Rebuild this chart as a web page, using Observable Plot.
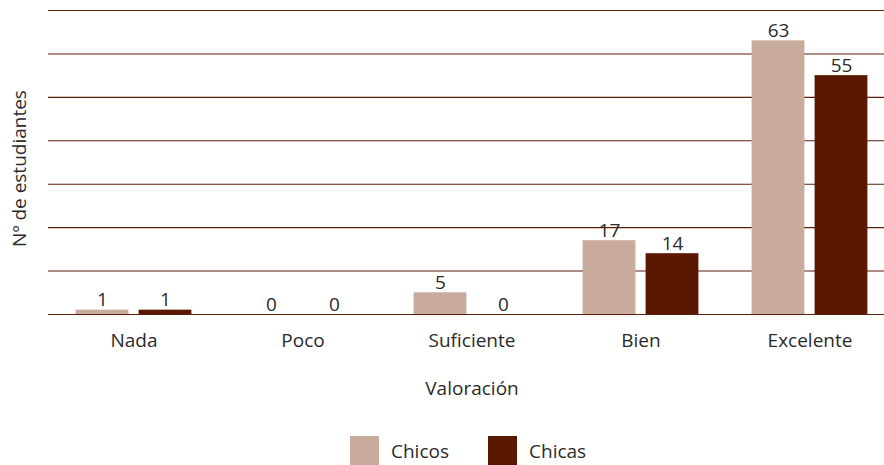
<!DOCTYPE html>
<html lang="es">
<head>
<meta charset="utf-8">
<script src="https://cdn.jsdelivr.net/npm/d3@7"></script>
<script src="https://cdn.jsdelivr.net/npm/@observablehq/plot@0.6"></script>
<style>
  html, body { margin: 0; padding: 0; background: #fff; }
  body { position: relative; width: 884px; height: 465px; overflow: hidden; font-family: "Open Sans", sans-serif; color: #2b2b2b; }
  #chart svg { display: block; }
  .legend { position: absolute; left: 350px; top: 436px; display: flex; align-items: center; font-size: 19px; }
  .legend .item { display: flex; align-items: center; }
  .legend .swatch { width: 29px; height: 29px; margin-right: 12px; }
  .legend .item + .item { margin-left: 39px; }
</style>
</head>
<body>
<div id="chart"></div>
<script>
// Valoración por categoría, chicos y chicas
const categories = ["Nada", "Poco", "Suficiente", "Bien", "Excelente"];
const series = ["Chicos", "Chicas"];
const chicos = [1, 0, 5, 17, 63];
const chicas = [1, 0, 0, 14, 55];
const colors = ["#c9ab9e", "#5a1800"];
const gridTicks = [0, 10, 20, 30, 40, 50, 60, 70];
const yTitle = "Nº de estudiantes";
const xTitle = "Valoración";

const rows = categories.flatMap((cat, i) => [
  {cat, serie: series[0], n: chicos[i]},
  {cat, serie: series[1], n: chicas[i]}
]);
const rowsChicos = rows.filter(d => d.serie === series[0]);
const rowsChicas = rows.filter(d => d.serie === series[1]);

const labelStyle = {fontSize: 19, fill: "#2b2b2b", lineAnchor: "bottom", dy: -4};

const chart = Plot.plot({
  width: 884,
  height: 430,
  marginTop: 10,
  marginBottom: 116,
  marginLeft: 48,
  marginRight: -11,
  style: {fontFamily: "Open Sans, sans-serif", fontSize: "19px", color: "#2b2b2b", background: "#fff"},
  x: {domain: categories, padding: 0},
  y: {domain: [0, 70], axis: null},
  marks: [
    Plot.ruleY(gridTicks, {stroke: "#5c1d0b", strokeWidth: 1.1}),
    Plot.barY(rowsChicos, {x: "cat", y: "n", fill: colors[0], insetLeft: 26.6, insetRight: 89.6}),
    Plot.barY(rowsChicas, {x: "cat", y: "n", fill: colors[1], insetLeft: 89.6, insetRight: 26.6}),
    Plot.text(rowsChicos, {x: "cat", y: "n", text: d => String(d.n), dx: -31.5, ...labelStyle}),
    Plot.text(rowsChicas, {x: "cat", y: "n", text: d => String(d.n), dx: 31.5, ...labelStyle}),
    Plot.axisX({tickSize: 0, tickPadding: 19, fontSize: 19, label: xTitle, labelAnchor: "center", labelOffset: 80, labelArrow: "none"}),
    // título del eje vertical, girado
    Plot.text([yTitle], {text: d => d, frameAnchor: "left", textAnchor: "middle", rotate: -90, dx: -29, dy: 6, fontSize: 19, fill: "#2b2b2b", lineAnchor: "middle"})
  ]
});
document.getElementById("chart").appendChild(chart);

// Leyenda
const legend = document.createElement("div");
legend.className = "legend";
series.forEach((s, i) => {
  const item = document.createElement("div");
  item.className = "item";
  const sw = document.createElement("span");
  sw.className = "swatch";
  sw.style.background = colors[i];
  const label = document.createElement("span");
  label.textContent = s;
  item.append(sw, label);
  legend.appendChild(item);
});
document.body.appendChild(legend);
</script>
</body>
</html>
